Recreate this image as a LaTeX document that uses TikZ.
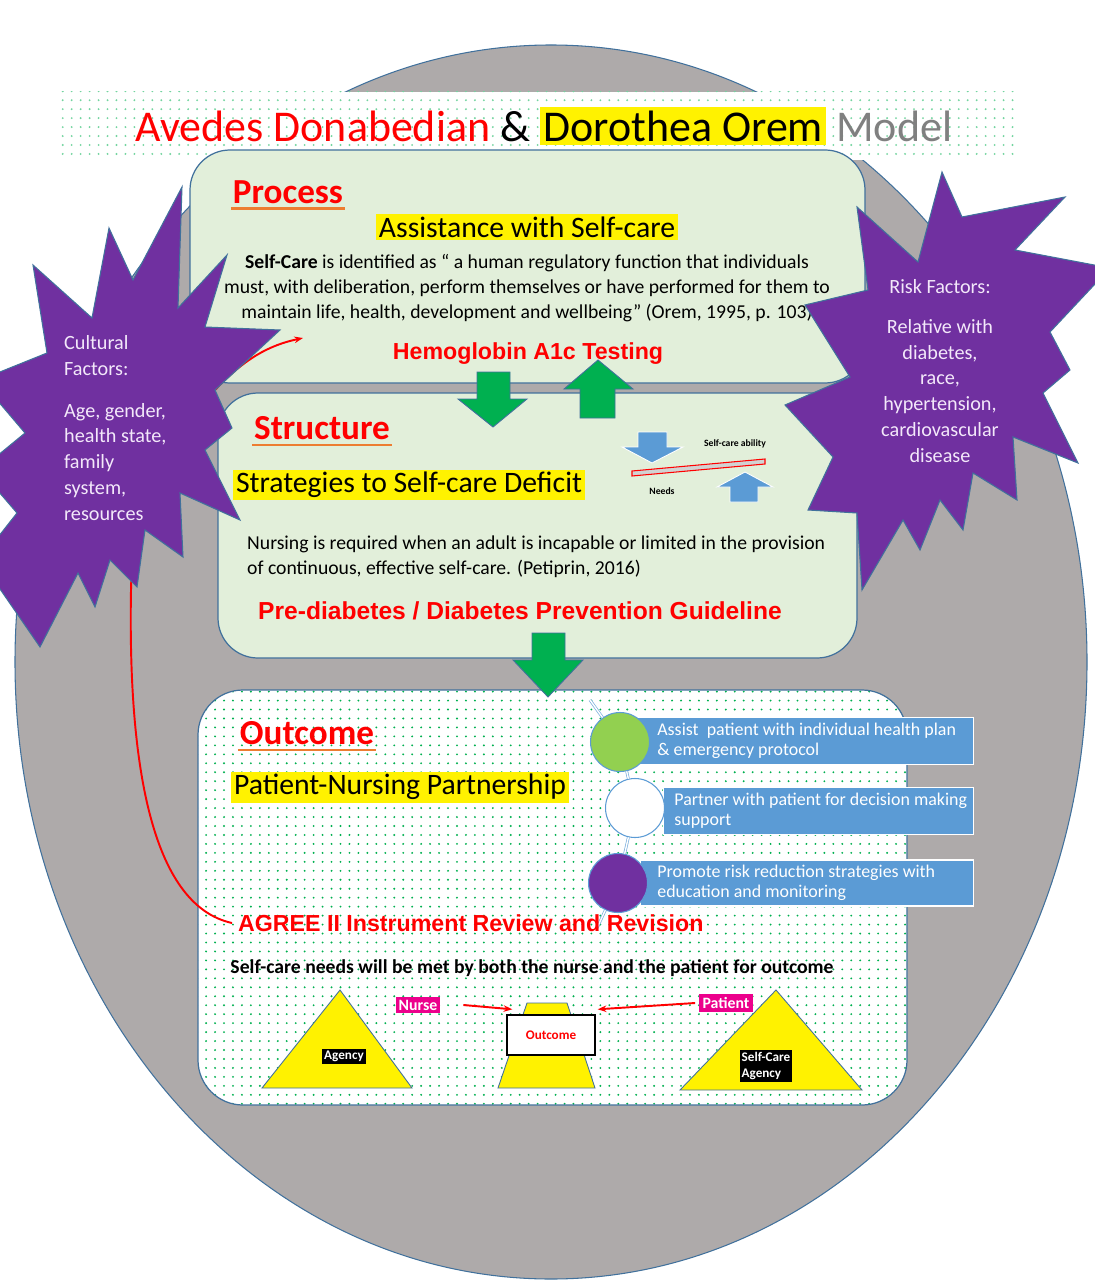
\documentclass[tikz,border=0pt]{standalone}
\usepackage{fontspec}
\setmainfont{Carlito}
\newfontfamily\heavyfont{Liberation Sans}
\usetikzlibrary{patterns,arrows.meta}

\definecolor{ovalgrey}{HTML}{AEAAAA}
\definecolor{panelgreen}{HTML}{E2EFDA}
\definecolor{panelline}{HTML}{41719C}
\definecolor{arrowgreen}{HTML}{00B050}
\definecolor{barblue}{HTML}{5B9BD5}
\definecolor{starpurple}{HTML}{7030A0}
\definecolor{leafgreen}{HTML}{92D050}
\definecolor{dotgreen}{HTML}{00B050}
\definecolor{underorange}{HTML}{ED7D31}
\definecolor{starwhite}{HTML}{F3E8FA}

% sparse dots for the outcome panel and the title band
\pgfdeclarepatternformonly{greendots}{\pgfqpoint{-1pt}{-1pt}}{\pgfqpoint{1pt}{1pt}}{\pgfqpoint{5.1pt}{5.1pt}}%
  {\pgfpathcircle{\pgfqpoint{0pt}{0pt}}{0.6pt}\pgfusepath{fill}}

\begin{document}
\begin{tikzpicture}[x=0.02cm, y=-0.02cm,
  panel/.style={draw=panelline, line width=0.7pt, rounded corners=0.8cm},
  head/.style={font=\fontsize{20}{24}\selectfont\bfseries, text=red, inner sep=1pt},
  underline/.style={draw=underorange, line width=1.3pt},
  hilite/.style={fill=yellow, font=\fontsize{16.9}{20}\selectfont, inner sep=1.5pt},
  body/.style={font=\fontsize{11.2}{14.2}\selectfont, align=center},
  redtag/.style={font=\heavyfont\bfseries\fontsize{13.2}{15}\selectfont, text=red},
  greenarrow/.style={fill=arrowgreen, draw=panelline, line width=0.5pt},
  bluearrow/.style={fill=barblue, draw=white, line width=0.5pt},
  starfill/.style={fill=starpurple, draw=panelline, line width=0.6pt},
  startext/.style={text=starwhite, font=\fontsize{11.5}{14.7}\selectfont},
  bar/.style={fill=barblue, draw=white, line width=0.6pt},
  bartext/.style={text=white, font=\fontsize{10.2}{11.3}\selectfont, align=left, anchor=west, inner sep=0pt},
  bead/.style={circle, draw=barblue, line width=0.6pt, minimum size=1.18cm, inner sep=0pt},
  chain/.style={draw=barblue!80, double=white, double distance=0.8pt, line width=0.4pt},
  pyramid/.style={fill=yellow, draw=panelline, line width=0.5pt},
  blacktag/.style={fill=black, text=white, font=\fontsize{7.5}{9.5}\selectfont\bfseries, inner sep=1.2pt, align=left},
  pinktag/.style={fill=magenta, text=white, font=\fontsize{9}{10}\selectfont\bfseries, inner sep=1.8pt},
  redlink/.style={draw=red, line width=1.1pt, -{Stealth[length=5pt]}},
  tiny/.style={font=\fontsize{5.5}{6.5}\selectfont\bfseries, inner sep=0pt}]

\useasboundingbox (0,0) rectangle (1094,1283);

% grey oval behind everything
\filldraw[fill=ovalgrey, draw=panelline, line width=0.6pt] (551,662) ellipse [x radius=536, y radius=617];

% title band
\fill[white] (60,92) rectangle (1020,160);
\fill[pattern=greendots, pattern color=dotgreen!55] (60,92) rectangle (1020,160);
\node[font=\fontsize{25}{29}\selectfont] (title) at (544,126)
  {{\color{red}Avedes Donabedian} \& {\fboxsep=2pt\colorbox{yellow}{Dorothea Orem}} {\color{gray}Model}};

% the three panels
\filldraw[panel, fill=panelgreen] (190,150) rectangle (865,383);
\filldraw[panel, fill=panelgreen] (218,393) rectangle (857,658);
\fill[white, rounded corners=0.9cm] (198,690) rectangle (907,1105);
\fill[pattern=greendots, pattern color=dotgreen, rounded corners=0.9cm] (198,690) rectangle (907,1105);
\draw[panel, rounded corners=0.9cm] (198,690) rectangle (907,1105);

% Process
\node[head] (process) at (288,192) {Process};
\draw[underline] ([yshift=-3pt]process.base west) -- ([yshift=-3pt]process.base east);
\node[hilite] (assist) at (527,227) {Assistance with Self-care};
\node[body] (orem) at (527,288) {\textbf{Self-Care} is identified as “ a human regulatory function that individuals\\
  must, with deliberation, perform themselves or have performed for them to\\
  maintain life, health, development and wellbeing” (Orem, 1995, p. 103)};
\node[redtag] (hba1c) at (528,354) {Hemoglobin A1c Testing};

% green block arrows between panels
\filldraw[greenarrow] (477,372) -- (510,372) -- (510,399) -- (527,399) -- (493,427) -- (458,399) -- (477,399) -- cycle;
\filldraw[greenarrow] (598,360) -- (633,389) -- (615,389) -- (615,418) -- (580,418) -- (580,389) -- (564,389) -- cycle;
\filldraw[greenarrow] (532,633) -- (565,633) -- (565,660) -- (583,660) -- (548,697) -- (513,660) -- (532,660) -- cycle;

% Structure
\node[head] (structure) at (322,428) {Structure};
\draw[underline] ([yshift=-3pt]structure.base west) -- ([yshift=-3pt]structure.base east);
\node[hilite] (deficit) at (409,485) {Strategies to Self-care Deficit};
\filldraw[bluearrow] (638,432) -- (667,432) -- (667,447) -- (683,447) -- (652,463) -- (622,447) -- (638,447) -- cycle;
\filldraw[bluearrow] (745,472) -- (773,487) -- (758,487) -- (758,502) -- (730,502) -- (730,487) -- (717,487) -- cycle;
\filldraw[draw=red, fill=gray!35, line width=0.6pt] (632,471) -- (765,459) -- (765,464) -- (632,476) -- cycle;
\node[tiny] (ability) at (735,444) {Self-care ability};
\node[tiny] (needs) at (662,491) {Needs};
\node[body, align=left, anchor=west] (nursing) at (241,557) {Nursing is required when an adult is incapable or limited in the provision\\
  of continuous, effective self-care. (Petiprin, 2016)};
\node[redtag, font=\heavyfont\bfseries\fontsize{14}{16}\selectfont] (guideline) at (520,611) {Pre-diabetes / Diabetes Prevention Guideline};

% Outcome
\node[head] (outcome) at (307,733) {Outcome};
\draw[underline] ([yshift=-3pt]outcome.base west) -- ([yshift=-3pt]outcome.base east);
\node[hilite] (partner) at (400,787) {Patient-Nursing Partnership};

\node[bar, minimum width=6.86cm, minimum height=0.94cm, anchor=west] (bar1) at (630,741) {};
\node[bar, minimum width=6.2cm, minimum height=0.94cm, anchor=west] (bar2) at (663,811) {};
\node[bar, minimum width=6.66cm, minimum height=0.92cm, anchor=west] (bar3) at (640,883) {};
\node[bartext] (bar1text) at (657,741) {Assist\ \ patient with individual health plan\\ \& emergency protocol};
\node[bartext] (bar2text) at (674,811) {Partner with patient for decision making\\ support};
\node[bartext] (bar3text) at (657,883) {Promote risk reduction strategies with\\ education and monitoring};

\node[bead, fill=leafgreen] (bead1) at (620,742) {};
\node[bead, fill=white] (bead2) at (635,808) {};
\node[bead, fill=starpurple] (bead3) at (618,883) {};
\coordinate (chaintop) at (590,700);
\coordinate (chainend) at (597,928);
\draw[chain] (chaintop) -- (bead1);
\draw[chain] (bead1) -- (bead2);
\draw[chain] (bead2) -- (bead3);
\draw[chain] (bead3) -- (chainend);

\node[redtag, anchor=west] (agree) at (232,923) {AGREE II Instrument Review and Revision};
\node[font=\fontsize{11.2}{13}\selectfont\bfseries] (shared) at (532,968)
  {Self-care needs will be met by both the nurse and the patient for outcome};

% nurse / outcome / patient pyramids
\filldraw[pyramid] (262,1088) -- (340,990) -- (412,1088) -- cycle;
\filldraw[pyramid] (498,1088) -- (527,1003) -- (567,1003) -- (595,1088) -- cycle;
\filldraw[pyramid] (680,1090) -- (776,990) -- (862,1090) -- cycle;
\node[blacktag] (agency) at (344,1056) {Agency};
\node[blacktag] (selfagency) at (766,1066) {Self-Care\\Agency};
\node[draw=black, line width=0.8pt, fill=white, minimum width=1.76cm, minimum height=0.8cm,
  font=\fontsize{7.5}{9}\selectfont\bfseries, text=red] (outbox) at (551,1035) {Outcome};
\node[pinktag] (nurse) at (418,1005) {Nurse};
\node[pinktag] (patient) at (726,1003) {Patient};
\draw[redlink] ([xshift=0.45cm]nurse.east) -- ([shift={(0.12cm,0.1cm)}]outbox.north west);
\draw[redlink] ([xshift=-0.08cm]patient.west) -- ([shift={(0.04cm,0.1cm)}]outbox.north east);

% feedback loop from the review back to process
\coordinate (loopin) at (303,338);
\draw[redlink] (agree.west) .. controls (150,905) and (128,760) .. (131,590) -- (133,520) -- (215,390)
  .. controls (245,358) and (270,345) .. (loopin);

% cultural factors star
\filldraw[starfill] (33,265) -- (92,318) -- (109,228) -- (133,280) -- (182,187) -- (178,308) -- (227,255)
  -- (205,327) -- (280,330) -- (215,390) -- (232,428) -- (205,450) -- (240,520) -- (180,493) -- (183,557)
  -- (145,530) -- (137,587) -- (110,560) -- (95,607) -- (78,573) -- (40,647) -- (-20,560) -- (17,513)
  -- (-20,470) -- (25,433) -- (-20,380) -- (47,353) -- cycle;
\node[startext, align=left, anchor=west] (culture) at (58,428) {Cultural\\ Factors:\\[9pt] Age, gender,\\ health state,\\ family\\ system,\\ resources};

% risk factors star
\filldraw[starfill] (857,207) -- (918,262) -- (942,172) -- (962,217) -- (1065,197) -- (1015,250) -- (1110,268)
  -- (1050,332) -- (1070,370) -- (1043,393) -- (1078,463) -- (1013,437) -- (1017,500) -- (973,473) -- (963,530)
  -- (940,500) -- (920,550) -- (903,520) -- (862,590) -- (857,513) -- (808,510) -- (833,457) -- (785,405)
  -- (850,377) -- (805,305) -- (868,290) -- cycle;
\node[startext, align=center] (risk) at (940,371) {Risk Factors:\\[8pt] Relative with\\ diabetes,\\ race,\\ hypertension,\\ cardiovascular\\ disease};

\end{tikzpicture}
\end{document}
